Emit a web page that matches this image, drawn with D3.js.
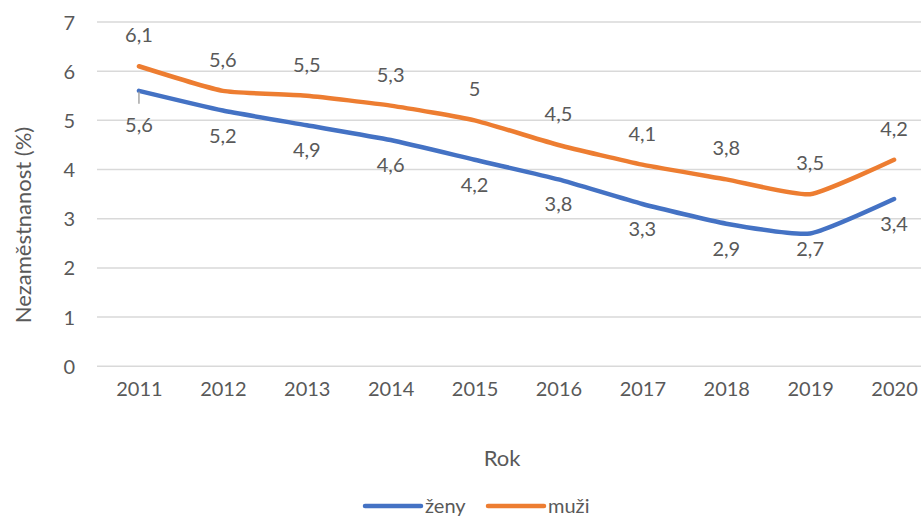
<!DOCTYPE html>
<html>
<head>
<meta charset="utf-8">
<script src="https://cdn.jsdelivr.net/npm/d3@7"></script>
<style>
  body { margin: 0; background: #fff; }
  text { font-family: Lato, "Open Sans", sans-serif; fill: #595959; }
</style>
</head>
<body>
<div id="chart"></div>
<script>
//////////////////// data ////////////////////
var years = ["2011", "2012", "2013", "2014", "2015", "2016", "2017", "2018", "2019", "2020"];
var zeny = [5.6, 5.2, 4.9, 4.6, 4.2, 3.8, 3.3, 2.9, 2.7, 3.4];
var muzi = [6.1, 5.6, 5.5, 5.3, 5.0, 4.5, 4.1, 3.8, 3.5, 4.2];
var yTicks = [0, 1, 2, 3, 4, 5, 6, 7];

//////////////////// svg ////////////////////
var svgWidth = 921;
var svgHeight = 517;

var svg = d3.select("#chart").append("svg")
  .attr("width", svgWidth)
  .attr("height", svgHeight);

// plot area runs a bit past the right edge, like the cropped original
var xScale = d3.scalePoint()
  .domain(years)
  .range([97, 936])
  .padding(0.5);

var yScale = d3.scaleLinear()
  .domain([0, 7])
  .range([366.3, 22]);

// gridlines
svg.append("g")
  .selectAll("line")
  .data(yTicks)
  .enter()
  .append("line")
  .attr("x1", 97)
  .attr("x2", svgWidth)
  .attr("y1", d => yScale(d))
  .attr("y2", d => yScale(d))
  .attr("stroke", "#d9d9d9")
  .attr("stroke-width", 1.5);

// y axis labels
var yAxis = d3.axisLeft(yScale).tickValues(yTicks).tickFormat(d3.format("d")).tickSize(0).tickPadding(0);
var yg = svg.append("g")
  .attr("transform", "translate(75,0)")
  .call(yAxis);
yg.select(".domain").remove();
yg.selectAll("text")
  .attr("font-size", 20)
  .attr("dy", "0.35em")
  .style("font-family", "Lato, sans-serif")
  .style("fill", "#595959");

// x axis labels
var xAxis = d3.axisBottom(xScale).tickSize(0).tickPadding(0);
var xg = svg.append("g")
  .attr("transform", "translate(0,382)")
  .call(xAxis);
xg.select(".domain").remove();
xg.selectAll("text")
  .attr("font-size", 20)
  .attr("dy", "0.71em")
  .style("font-family", "Lato, sans-serif")
  .style("fill", "#595959");

//////////////////// lines ////////////////////
var series = [
  { name: "ženy", values: zeny, color: "#4472C4", dy: 25 },
  { name: "muži", values: muzi, color: "#ED7D31", dy: -31 }
];

// excel "smoothed line" - mild smoothing, corners mostly kept
var line = d3.line()
  .x((d, i) => xScale(years[i]))
  .y(d => yScale(d))
  .curve(d3.curveCardinal.tension(0.5));

svg.selectAll(".series")
  .data(series)
  .enter()
  .append("path")
  .attr("class", "series")
  .attr("d", d => line(d.values))
  .attr("fill", "none")
  .attr("stroke", d => d.color)
  .attr("stroke-width", 4.5)
  .attr("stroke-linecap", "round")
  .attr("stroke-linejoin", "round");

// data labels (the first ženy label was dragged down, with a leader line)
var moved = { "ženy-0": 34, "ženy-8": 16 };

svg.append("line")
  .attr("x1", xScale(years[0]))
  .attr("x2", xScale(years[0]))
  .attr("y1", yScale(zeny[0]) + 1)
  .attr("y2", yScale(zeny[0]) + 13)
  .attr("stroke", "#a6a6a6")
  .attr("stroke-width", 1.5);

series.forEach(function (s) {
  svg.append("g")
    .selectAll("text")
    .data(s.values)
    .enter()
    .append("text")
    .attr("x", (d, i) => xScale(years[i]))
    .attr("y", (d, i) => yScale(d) + (moved[s.name + "-" + i] || s.dy))
    .attr("dy", "0.35em")
    .attr("text-anchor", "middle")
    .attr("font-size", 20)
    .text(d => String(d).replace(".", ","));
});

//////////////////// titles ////////////////////
svg.append("text")
  .attr("transform", "translate(23,225) rotate(-90)")
  .attr("text-anchor", "middle")
  .attr("dy", "0.35em")
  .attr("font-size", 22)
  .text("Nezaměstnanost (%)");

svg.append("text")
  .attr("x", 502)
  .attr("y", 458)
  .attr("text-anchor", "middle")
  .attr("dy", "0.35em")
  .attr("font-size", 22)
  .text("Rok");

//////////////////// legend ////////////////////
var legendX = [365, 488];
var legend = svg.selectAll(".legend")
  .data(series)
  .enter()
  .append("g")
  .attr("class", "legend")
  .attr("transform", (d, i) => `translate(${legendX[i]},506)`);

legend.append("line")
  .attr("x1", 0)
  .attr("x2", 56)
  .attr("stroke", d => d.color)
  .attr("stroke-width", 4.5)
  .attr("stroke-linecap", "round");

legend.append("text")
  .attr("x", 60)
  .attr("dy", "0.35em")
  .attr("font-size", 20)
  .text(d => d.name);
</script>
</body>
</html>
